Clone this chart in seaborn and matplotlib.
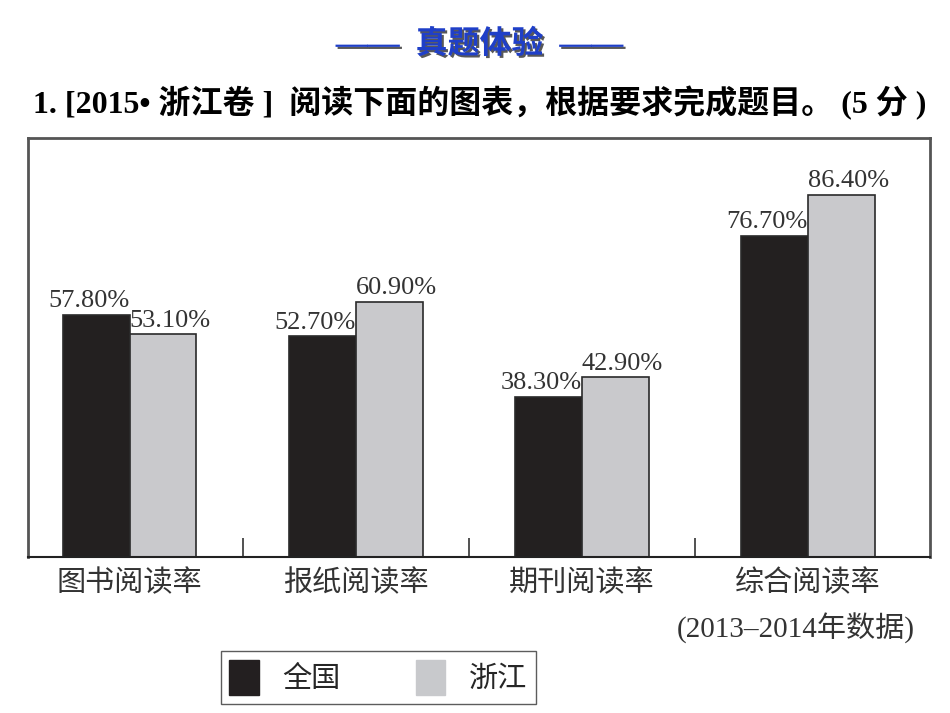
import matplotlib
matplotlib.use("Agg")
import matplotlib.pyplot as plt
import matplotlib.patheffects as pe
from matplotlib.patches import Patch
import seaborn as sns
import pandas as pd

# Chart data
categories = ["图书阅读率", "报纸阅读率", "期刊阅读率", "综合阅读率"]
series = ["全国", "浙江"]
national = [57.8, 52.7, 38.3, 76.7]
zhejiang = [53.1, 60.9, 42.9, 86.4]
note = "(2013–2014年数据)"

df = pd.DataFrame({
    "category": categories * 2,
    "region": [series[0]] * 4 + [series[1]] * 4,
    "value": national + zhejiang,
})

sns.set_style("white")
plt.rcParams["font.family"] = ["Liberation Serif", "Noto Sans CJK SC"]

fig = plt.figure(figsize=(9.5, 7.13), dpi=100)
ax = fig.add_axes([0.0295, 0.2188, 0.9495, 0.5877])

colors = {"全国": "#231f20", "浙江": "#c8c9cc"}
sns.barplot(
    data=df, x="category", y="value", hue="region",
    palette=colors, width=0.59, gap=0, ax=ax,
    edgecolor="#2a2a2a", linewidth=1.2, legend=False,
)

ax.set_xlim(-0.45, 3.54)
ax.set_ylim(0, 100)
ax.set_yticks([])
ax.set_xlabel("")
ax.set_ylabel("")
ax.set_xticks(range(4))
ax.set_xticklabels(categories, fontsize=21, color="#333333")
ax.tick_params(axis="x", which="major", length=0, pad=9)
ax.set_xticks([0.5, 1.5, 2.5], minor=True)
ax.tick_params(axis="x", which="minor", bottom=True, direction="in", length=14,
               width=1.2, color="#333333")

for side in ["left", "top", "right"]:
    ax.spines[side].set_color("#555555")
    ax.spines[side].set_linewidth(2)
ax.spines["bottom"].set_color("#222222")
ax.spines["bottom"].set_linewidth(1.5)

# value labels
half = 0.295
for i in range(4):
    ax.text(i, national[i] + 0.6, f"{national[i]:.2f}%", ha="right", va="bottom",
            fontsize=19, color="#333333")
    ax.text(i + half / 2 + 0.03, zhejiang[i] + 0.6, f"{zhejiang[i]:.2f}%", ha="center",
            va="bottom", fontsize=19, color="#333333")

fig.text(0.963, 0.119, note, ha="right", va="center", fontsize=21, color="#333333")

handles = [Patch(facecolor=colors[s], edgecolor=colors[s]) for s in series]
fig.legend(handles, series, loc="center", bbox_to_anchor=(0.398, 0.05),
           ncol=2, fontsize=21, frameon=True, fancybox=False, edgecolor="#333333",
           handlelength=1.0, handleheight=1.5, columnspacing=2.6, handletextpad=0.8,
           borderpad=0.3)

# header
fig.text(0.505, 0.937, "——  真题体验  ——", ha="center", va="center", fontsize=23,
         fontweight="bold", color="#1f3fc8",
         path_effects=[pe.withSimplePatchShadow(offset=(1.5, -1.5), shadow_rgbFace="#111111", alpha=0.7)])
fig.text(0.035, 0.855, "1. [2015• 浙江卷 ]  阅读下面的图表，根据要求完成题目。 (5 分 )",
         ha="left", va="center", fontsize=23, fontweight="bold", color="black")

fig.savefig("out.png", dpi=100, facecolor="white")
